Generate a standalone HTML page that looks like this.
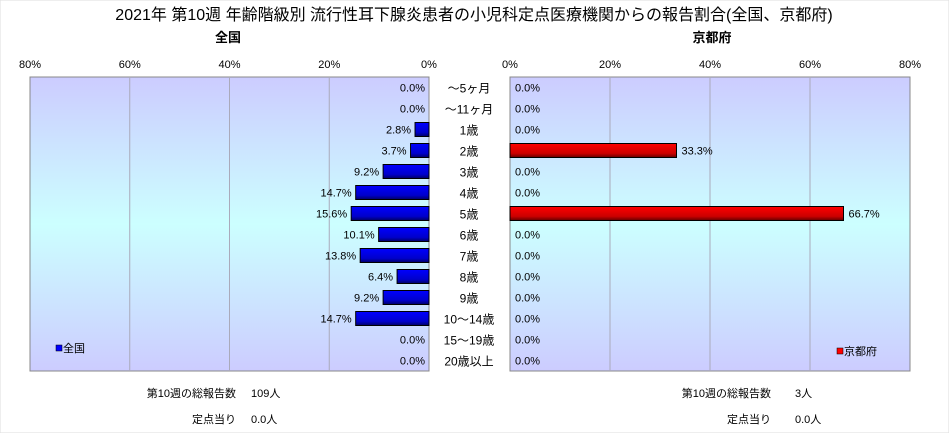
<!DOCTYPE html>
<html><head><meta charset="utf-8"><style>
body{margin:0;background:#fff;font-family:"Liberation Sans","Noto Sans CJK JP",sans-serif;}
svg text{font-family:"Liberation Sans","Noto Sans CJK JP",sans-serif;}
</style></head><body>
<svg width="949" height="433">
<defs>
<linearGradient id="bg" x1="0" y1="0" x2="0" y2="1">
<stop offset="0" stop-color="#ccccff"/><stop offset="0.5" stop-color="#ccffff"/><stop offset="1" stop-color="#ccccff"/></linearGradient>
<linearGradient id="bl" x1="0" y1="0" x2="0" y2="1"><stop offset="0" stop-color="#0000ff"/><stop offset="0.7" stop-color="#0000cc"/><stop offset="1" stop-color="#000066"/></linearGradient>
<linearGradient id="rd" x1="0" y1="0" x2="0" y2="1"><stop offset="0" stop-color="#ff0000"/><stop offset="0.7" stop-color="#cc0000"/><stop offset="1" stop-color="#660000"/></linearGradient>
</defs>
<rect x="0" y="0" width="949" height="433" fill="#fff" stroke="#ddd"/>
<text x="474" y="20" font-size="16" text-anchor="middle">2021年 第10週 年齢階級別 流行性耳下腺炎患者の小児科定点医療機関からの報告割合(全国、京都府)</text>
<text x="228" y="42" font-size="13" font-weight="bold" text-anchor="middle">全国</text>
<text x="712" y="42" font-size="13" font-weight="bold" text-anchor="middle">京都府</text>
<rect x="30" y="77" width="399" height="294" fill="url(#bg)" stroke="#888"/>
<rect x="510" y="77" width="400" height="294" fill="url(#bg)" stroke="#888"/>
<g id="g"></g>
<rect x="56" y="345" width="6" height="6" fill="#0000ff" stroke="#000" stroke-width="0.5"/>
<text x="63" y="352" font-size="11">全国</text>
<rect x="837" y="348" width="6" height="6" fill="#ff0000" stroke="#000" stroke-width="0.5"/>
<text x="844" y="355" font-size="11">京都府</text>
<text x="236" y="397" font-size="11" text-anchor="end">第10週の総報告数</text>
<text x="251" y="397" font-size="11">109人</text>
<text x="236" y="423" font-size="11" text-anchor="end">定点当り</text>
<text x="251" y="423" font-size="11">0.0人</text>
<text x="771" y="397" font-size="11" text-anchor="end">第10週の総報告数</text>
<text x="795" y="397" font-size="11">3人</text>
<text x="771" y="423" font-size="11" text-anchor="end">定点当り</text>
<text x="795" y="423" font-size="11">0.0人</text>
</svg>
<script>
const categories=["～5ヶ月","～11ヶ月","1歳","2歳","3歳","4歳","5歳","6歳","7歳","8歳","9歳","10～14歳","15～19歳","20歳以上"];
const categoriesFull=["～5ヶ月","～11ヶ月","1歳","2歳","3歳","4歳","5歳","6歳","7歳","8歳","9歳","10～14歳","15～19歳","20歳以上"];
const nationalValues=[0,0,2.8,3.7,9.2,14.7,15.6,10.1,13.8,6.4,9.2,14.7,0,0];
const kyotoValues=[0,0,0,33.3,0,0,66.7,0,0,0,0,0,0,0];
const tickValues=[0,20,40,60,80];
const NS="http://www.w3.org/2000/svg";
const g=document.getElementById('g');
const top0=77,bottom0=371;
const rowH=(bottom0-top0)/categories.length;
const lx=v=>429-v*(399/80);
const rx=v=>510+v*(400/80);
const yc=i=>top0+rowH*(i+0.5);
function mk(t,a){const e=document.createElementNS(NS,t);for(const k in a)e.setAttribute(k,a[k]);g.appendChild(e);return e;}
tickValues.forEach(v=>{
 if(v>0&&v<80){
  let l=mk('line',{x1:lx(v),x2:lx(v),y1:top0,y2:bottom0,stroke:'#aab',"stroke-width":1});
  
  
  let r=mk('line',{x1:rx(v),x2:rx(v),y1:top0,y2:bottom0,stroke:'#aab',"stroke-width":1});
  
  
 }
 let t=mk('text',{x:lx(v),y:68,"font-size":11,"text-anchor":"middle"});t.textContent=v+'%';
 
 
 let t2=mk('text',{x:rx(v),y:68,"font-size":11,"text-anchor":"middle"});t2.textContent=v+'%';
 
 
});
categories.forEach((c,i)=>{
 const y=yc(i),v=nationalValues[i],k=kyotoValues[i];
 let ct=mk('text',{x:469,y:y+5,"font-size":12,"text-anchor":"middle"});ct.textContent=c;
 
 
 if(v>0){let b=mk('rect',{x:lx(v),y:y-7,width:429-lx(v),height:14,fill:'url(#bl)',stroke:'#000'});
  
  }
 let lt=mk('text',{x:lx(v)-4,y:y+4,"font-size":11,"text-anchor":"end"});lt.textContent=v.toFixed(1)+'%';
 
 
 if(k>0){let b=mk('rect',{x:510,y:y-7,width:rx(k)-510,height:14,fill:'url(#rd)',stroke:'#000'});
  
  }
 let rt=mk('text',{x:rx(k)+5,y:y+4,"font-size":11});rt.textContent=k.toFixed(1)+'%';
 
 
});
</script>
</body></html>
